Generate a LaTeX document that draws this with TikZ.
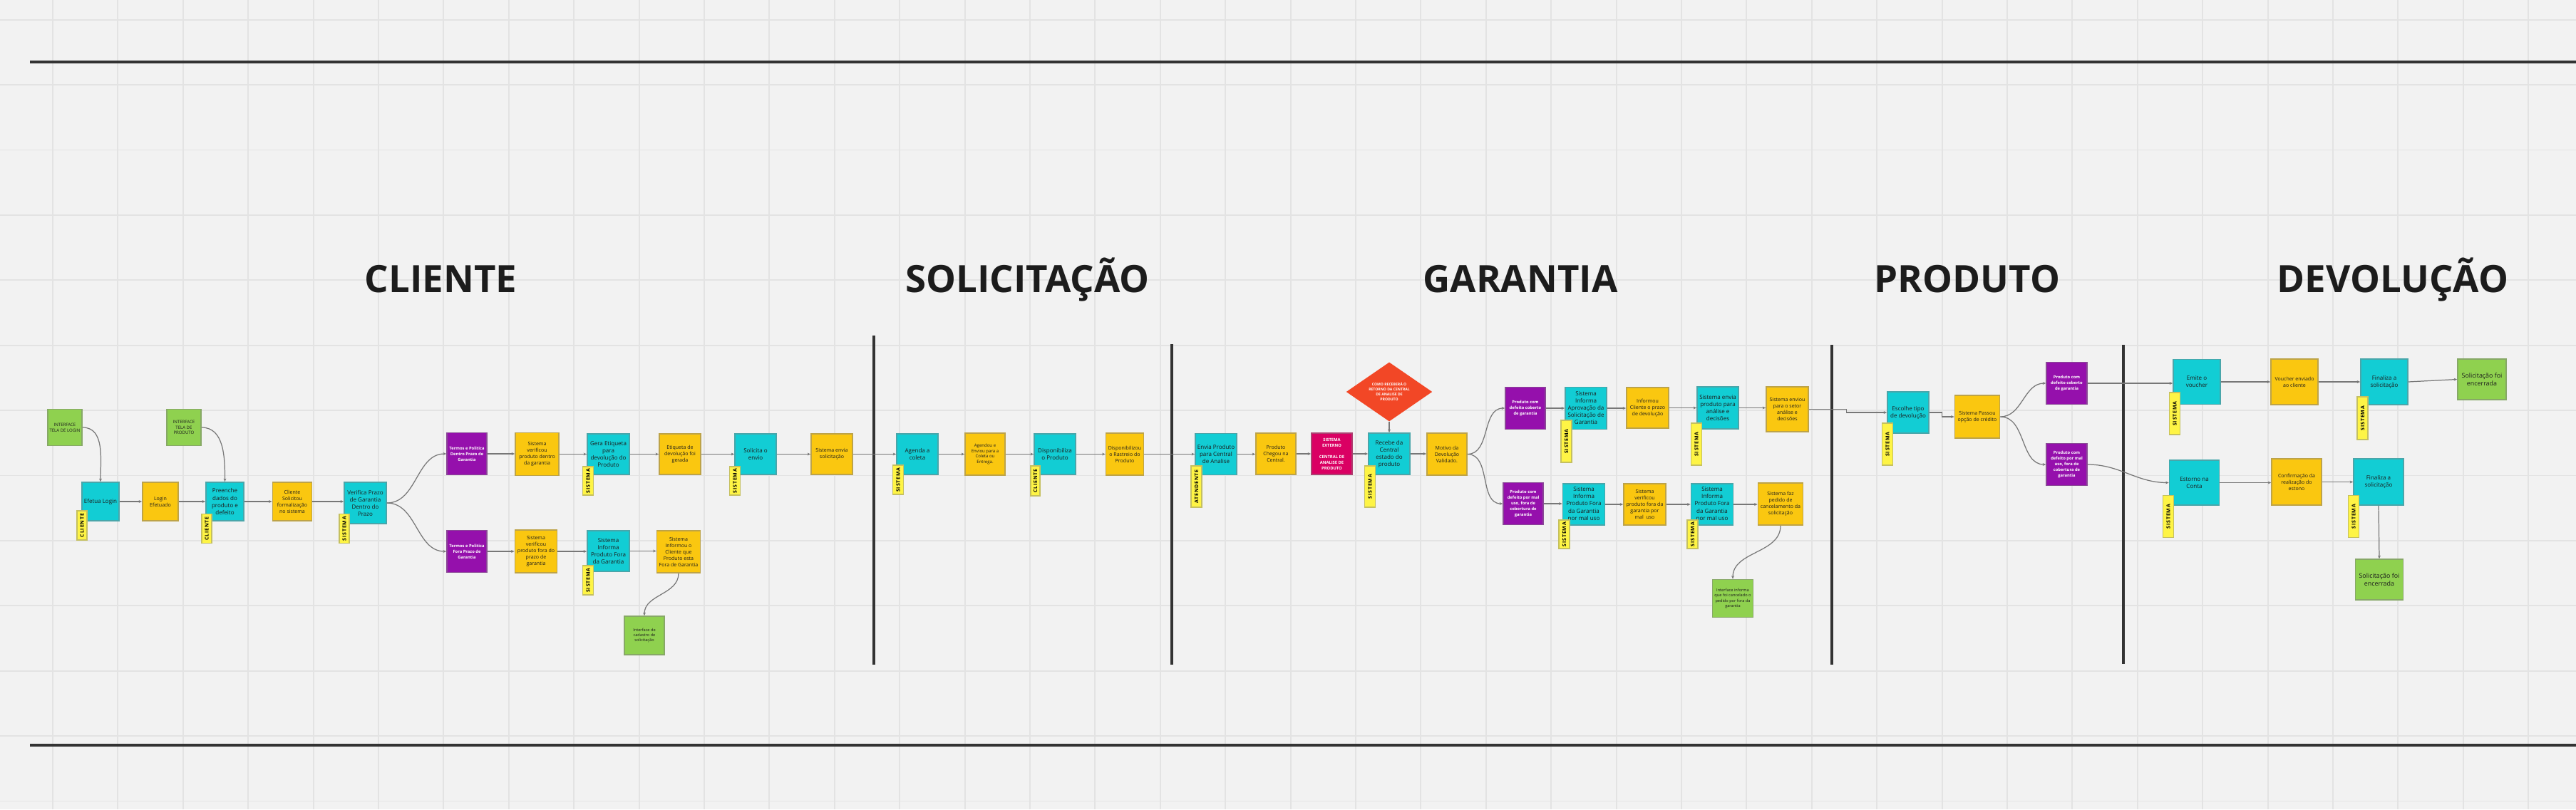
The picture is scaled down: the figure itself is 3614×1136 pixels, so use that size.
\documentclass[tikz,border=0pt]{standalone}
\usepackage{fontspec}
\setmainfont{Open Sans}
\newfontfamily\tagfont{Open Sans}[LetterSpace=12]
\usetikzlibrary{arrows.meta,shapes.geometric}
\definecolor{bg}{HTML}{F2F2F2}
\definecolor{gridc}{HTML}{E3E3E3}
\definecolor{cy}{HTML}{12CDD4}
\definecolor{ye}{HTML}{FAC710}
\definecolor{gr}{HTML}{8FD14F}
\definecolor{pu}{HTML}{9510AC}
\definecolor{tg}{HTML}{FEF445}
\definecolor{mg}{HTML}{DA0063}
\definecolor{rd}{HTML}{F24726}
\definecolor{ink}{HTML}{1C1C1C}
\definecolor{edgec}{HTML}{777777}
\definecolor{barc}{HTML}{333333}
\newdimen\pxu \pxu=0.01cm
\tikzset{
 box/.style={draw=#1!50!gray, fill=#1, line width=0.45pt, inner sep=0pt, align=center, text=ink},
 t7/.style={font=\fontsize{1.6pt}{2.0pt}\selectfont},
 t8/.style={font=\fontsize{1.72pt}{2.2pt}\selectfont},
 t9/.style={font=\fontsize{2.0pt}{2.56pt}\selectfont},
 t10/.style={font=\fontsize{2.28pt}{2.85pt}\selectfont},
 t11/.style={font=\fontsize{2.53pt}{3.2pt}\selectfont},
 wt/.style={text=white, font=\fontsize{1.65pt}{2.28pt}\selectfont\bfseries},
 tagbox/.style={draw=tg!55!gray, fill=tg, line width=0.4pt, inner sep=0pt, text=black,
   font=\tagfont\fontsize{2.0pt}{2.4pt}\selectfont\bfseries},
 head/.style={font=\fontsize{15pt}{18pt}\selectfont\bfseries, text=ink, anchor=base, inner sep=0pt},
 conn/.style={draw=edgec, line width=0.35pt, -{Stealth[length=1.3pt,width=1.1pt]}},
 sep/.style={draw=barc, line width=1.4pt},
}
\newcommand{\mybox}[8]{\node[box=#6,#7,minimum width=#4*\pxu,minimum height=#5*\pxu] (#1) at (#2,#3) {#8};}
\newcommand{\mytag}[6]{\node[tagbox,minimum width=#5*\pxu,minimum height=#4*\pxu,rotate=90] (#1) at (#2,#3) {#6};}
\begin{document}
\begin{tikzpicture}[x=0.01cm,y=-0.01cm]
\fill[bg] (0,0) rectangle (3614,1136);
\useasboundingbox (0,0) rectangle (3614,1136);
\foreach \i in {0,...,38} \draw[gridc, line width=0.55pt] ({74+91.4*\i},0) -- ({74+91.4*\i},1136);
\foreach \j in {0,...,12} \draw[gridc, line width=0.55pt] (0,{27.7+91.4*\j}) -- (3614,{27.7+91.4*\j});

% frame lines and separators
\draw[sep, line width=1.3pt] (42,87) -- (3614,87);
\draw[sep, line width=1.3pt] (42,1046) -- (3614,1046);
\draw[sep] (1226,471) -- (1226,933);
\draw[sep] (1644,483) -- (1644,933);
\draw[sep] (2570,484) -- (2570,933);
\draw[sep] (2979,484) -- (2979,932);

% headings
\node[head] (hcli) at (618.5,410) {CLIENTE};
\node[head] (hsol) at (1441.5,410) {SOLICITAÇÃO};
\node[head] (hgar) at (2133,410) {GARANTIA};
\node[head] (hpro) at (2760,410) {PRODUTO};
\node[head] (hdev) at (3357,410) {DEVOLUÇÃO};

% CLIENTE
\mybox{il}{91}{600}{48}{51}{gr}{t8}{INTERFACE\\TELA DE LOGIN}
\mybox{el}{141}{704}{52}{54}{cy}{t10}{Efetua Login}
\mybox{le}{225}{704}{50}{54}{ye}{t9}{Login\\Efetuado}
\mybox{ip}{258}{600}{48}{51}{gr}{t8}{INTERFACE\\TELA DE\\PRODUTO}
\mybox{pd}{315.5}{704}{53}{54}{cy}{t10}{Preenche\\dados do\\produto e\\defeito}
\mybox{cs}{410}{704}{55}{54}{ye}{t9}{Cliente\\Solicitou\\formalização\\no sistema}
\mybox{vp}{512.5}{706}{59}{58}{cy}{t10}{Verifica Prazo\\de Garantia\\Dentro do\\Prazo}
\mytag{tga}{115}{737.5}{14}{41}{CLIENTE}
\mytag{tgb}{290}{742}{14}{41}{CLIENTE}
\mytag{tgc}{483}{742}{14}{41}{SISTEMA}

\mybox{td}{655}{637}{56}{59}{pu}{wt}{Termos e Politica\\Dentro Prazo de\\Garantia}
\mybox{svd}{753.5}{637.5}{61}{60}{ye}{t9}{Sistema\\verificou\\produto dentro\\da garantia}
\mybox{ge}{853.5}{637.5}{59}{57}{cy}{t10}{Gera Etiqueta\\para\\devolução do\\Produto}
\mybox{eg}{954}{637.5}{58}{57}{ye}{t9}{Etiqueta de\\devolução foi\\gerada}
\mybox{se}{1060}{637.5}{58}{57}{cy}{t10}{Solicita o\\envio}
\mybox{ses}{1167}{637.5}{58}{57}{ye}{t9}{Sistema envia\\solicitação}
\mytag{tgd}{825}{675}{15}{40}{SISTEMA}
\mytag{tge}{1031}{675}{15}{40}{SISTEMA}

\mybox{tf}{655}{774}{56}{59}{pu}{wt}{Termos e Politica\\Fora Prazo de\\Garantia}
\mybox{svf}{752}{774}{59}{60}{ye}{t9}{Sistema\\verificou\\produto fora do\\prazo de\\garantia}
\mybox{sif}{853.5}{773.5}{59}{57}{cy}{t10}{Sistema\\Informa\\Produto Fora\\da Garantia}
\mybox{sio}{952}{774.5}{61}{59}{ye}{t9}{Sistema\\Informou o\\Cliente que\\Produto esta\\Fora de Garantia}
\mybox{ic}{904}{892}{56}{54}{gr}{t7}{Interface de\\cadastro de\\solicitação}
\mytag{tgf}{825}{814.5}{15}{41}{SISTEMA}

% SOLICITACAO
\mybox{ac}{1287}{637.5}{58}{57}{cy}{t10}{Agenda a\\coleta}
\mybox{ae}{1382}{637.5}{56}{59}{ye}{t8}{Agendou e\\Enviou para a\\Coleta ou\\Entrega.}
\mybox{dp}{1480}{637.5}{58}{57}{cy}{t10}{Disponibiliza\\o Produto}
\mybox{dr}{1578}{637.5}{53}{59}{ye}{t9}{Disponibilizou\\o Rastreio do\\Produto}
\mytag{tgg}{1260}{673.5}{15}{41}{SISTEMA}
\mytag{tgh}{1452.5}{675}{13}{42}{CLIENTE}

% GARANTIA
\mybox{ep}{1706}{637.5}{58}{58}{cy}{t10}{Envia Produto\\para Central\\de Analise}
\mybox{pc}{1790}{637}{56}{58}{ye}{t9}{Produto\\Chegou na\\Central.}
\mybox{sx}{1868.5}{637}{57}{58}{mg}{wt}{SISTEMA\\EXTERNO\\[2.28pt]CENTRAL DE\\ANALISE DE\\PRODUTO}
\node[diamond, fill=rd, inner sep=0pt, minimum width=121*\pxu, minimum height=67*\pxu, align=center, text=white,
  font=\fontsize{1.45pt}{2.0pt}\selectfont\bfseries] (dm) at (1949,550) {COMO RECEBERÁ O\\RETORNO DA CENTRAL\\DE ANALISE DE\\PRODUTO};
\mybox{rc}{1949}{637}{58}{58}{cy}{t10}{Recebe da\\Central\\estado do\\produto}
\mybox{mv}{2030}{637.5}{56}{59}{ye}{t9}{Motivo da\\Devolução\\Validado.}
\mytag{tgi}{1678.5}{683}{15}{58}{ATENDENTE}
\mytag{tgj}{1922}{683}{15}{58}{SISTEMA}

\mybox{pcg}{2140}{573}{56}{59}{pu}{wt}{Produto com\\defeito coberto\\de garantia}
\mybox{sia}{2225}{573}{58}{59}{cy}{t10}{Sistema\\Informa\\Aprovação da\\Solicitação de\\Garantia}
\mybox{icp}{2311.5}{572.5}{59}{57}{ye}{t9}{Informou\\Cliente o prazo\\de devolução}
\mybox{sep}{2410}{572.5}{58}{59}{cy}{t10}{Sistema envia\\produto para\\análise e\\decisões}
\mybox{seo}{2507.5}{574.5}{59}{63}{ye}{t9}{Sistema enviou\\para o setor\\análise e\\decisões}
\mytag{tgk}{2197.5}{619.5}{15}{59}{SISTEMA}
\mytag{tgl}{2380}{623.5}{15}{59}{SISTEMA}

\mybox{pmu}{2137}{707}{56}{59}{pu}{wt}{Produto com\\defeito por mal\\uso, fora de\\cobertura de\\garantia}
\mybox{sim}{2222}{708}{59}{58}{cy}{t10}{Sistema\\Informa\\Produto Fora\\da Garantia\\por mal uso}
\mybox{svm}{2307.5}{708}{59}{58}{ye}{t9}{Sistema\\verificou\\produto fora da\\garantia por\\mal\ \ uso}
\mybox{simb}{2402}{708}{59}{58}{cy}{t10}{Sistema\\Informa\\Produto Fora\\da Garantia\\por mal uso}
\mybox{sfp}{2498}{707.5}{63}{59}{ye}{t9}{Sistema faz\\pedido de\\cancelamento da\\solicitação}
\mybox{iif}{2431}{840}{57}{53}{gr}{t7}{Interface informa\\que foi cancelado o\\pedido por fora da\\garantia}
\mytag{tgm}{2194.5}{750}{15}{40}{SISTEMA}
\mytag{tgn}{2374.5}{750}{15}{40}{SISTEMA}

% PRODUTO
\mybox{etd}{2677}{579}{58}{58}{cy}{t10}{Escolhe tipo\\de devolução}
\mybox{spc}{2774}{585}{63}{60}{ye}{t9}{Sistema Passou\\opção de crédito}
\mybox{pa}{2899.5}{538}{57}{59}{pu}{wt}{Produto com\\defeito coberto\\de garantia}
\mybox{pb}{2899.5}{652}{57}{59}{pu}{wt}{Produto com\\defeito por mal\\uso, fora de\\cobertura de\\garantia}
\mytag{tgo}{2648}{623.5}{15}{59}{SISTEMA}

% DEVOLUCAO
\mybox{ev}{3082}{536}{66}{63}{cy}{t10}{Emite o\\voucher}
\mybox{ve}{3219}{536}{66}{64}{ye}{t9}{Voucher enviado\\ao cliente}
\mybox{fa}{3345}{536}{66}{64}{cy}{t10}{Finaliza a\\solicitação}
\mybox{sea}{3482}{532.5}{68}{57}{gr}{t11}{Solicitação foi\\encerrada}
\mybox{en}{3078.5}{677.5}{70}{63}{cy}{t10}{Estorno na\\Conta}
\mybox{cre}{3222}{676.5}{70}{65}{ye}{t9}{Confirmação da\\realização do\\estono}
\mybox{fb}{3337}{676.5}{70}{65}{cy}{t10}{Finaliza a\\solicitação}
\mybox{seb}{3338}{813.5}{67}{57}{gr}{t11}{Solicitação foi\\encerrada}
\mytag{tgp}{3051}{580.5}{15}{59}{SISTEMA}
\mytag{tgq}{3314.5}{587}{15}{60}{SISTEMA}
\mytag{tgr}{3042}{725}{15}{59}{SISTEMA}
\mytag{tgs}{3302}{725}{15}{59}{SISTEMA}

% connectors
\draw[conn] (il.east) to[out=0,in=90] (el.north);
\draw[conn] (ip.east) to[out=0,in=90] (pd.north);
\foreach \a/\b in {el/le, le/pd, pd/cs, cs/vp,
  td/svd, svd/ge, ge/eg, eg/se, se/ses, ses/ac, ac/ae, ae/dp, dp/dr, dr/ep, ep/pc, pc/sx, sx/rc, rc/mv,
  tf/svf, svf/sif, sif/sio,
  pcg/sia, sia/icp, icp/sep, sep/seo,
  pmu/sim, sim/svm, svm/simb, simb/sfp,
  pa/ev, ev/ve, ve/fa, en/cre, cre/fb}
  \draw[conn] (\a.east) -- (\a.east -| \b.west);
\draw[conn] (vp.east) to[out=0,in=180] (td.west);
\draw[conn] (vp.east) to[out=0,in=180] (tf.west);
\draw[conn] (sio.south) to[out=-90,in=90] (ic.north);
\draw[conn] (dm.south) -- (rc.north);
\draw[conn] (mv.east) to[out=0,in=180] (pcg.west);
\draw[conn] (mv.east) to[out=0,in=180] (pmu.west);
\draw[conn] (sfp.south) to[out=-90,in=90] (iif.north);
\draw[conn] (seo.east) -- ++(53,0) |- (etd.west);
\draw[conn] (etd.east) -- ++(18,0) |- (spc.west);
\draw[conn] (spc.east) to[out=0,in=180] (pa.west);
\draw[conn] (spc.east) to[out=0,in=180] (pb.west);
\draw[conn] (pb.east) to[out=0,in=180] (en.west);
\draw[conn] (fa.east) -- (sea.west);
\draw[conn] (fb.south) -- (seb.north);
\end{tikzpicture}
\end{document}
